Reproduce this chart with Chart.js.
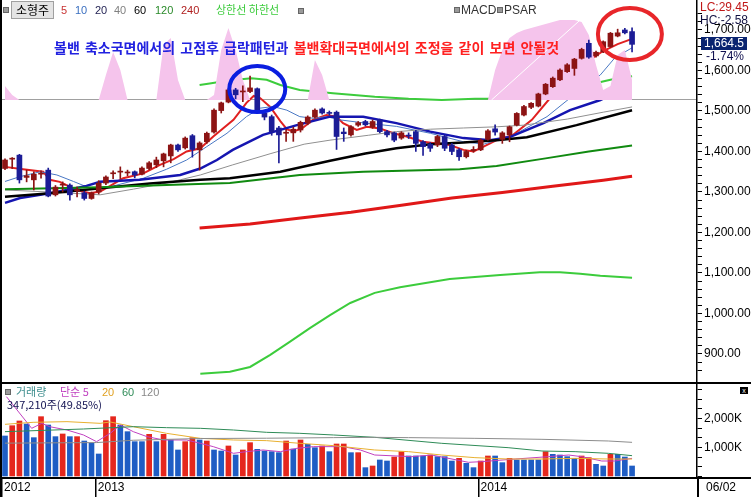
<!DOCTYPE html>
<html>
<head>
<meta charset="utf-8">
<script src="https://cdn.jsdelivr.net/npm/chart.js@4.4.1/dist/chart.umd.min.js"></script>
<style>
body{margin:0;background:#fff;}
#wrap{position:relative;width:751px;height:497px;overflow:hidden;background:#fff;font-family:"Liberation Sans",Arial,sans-serif;}
canvas{position:absolute;left:0;}
#priceCv{top:0;}
#volCv{top:383px;}
.t{position:absolute;white-space:nowrap;font-size:12px;line-height:13px;}
.kr{font-family:"Noto Sans CJK KR","Noto Sans",sans-serif;}
.ln{position:absolute;background:#000;}
.sq{position:absolute;width:4px;height:4px;background:#9a9a9a;border:1px solid #666;}
</style>
</head>
<body>
<div id="wrap">
<canvas id="priceCv" width="751" height="383"></canvas>
<canvas id="volCv" width="751" height="114"></canvas>

<div class="sq" style="left:3px;top:7px"></div>
<div class="t kr" style="left:11px;top:1px;width:41px;height:16px;background:#e4e4e4;border:1px solid #a0a0a0;text-align:center;font-size:12px;line-height:16px">소형주</div>
<div class="t" style="left:61px;top:4px;font-size:11px;color:#c83232">5</div>
<div class="t" style="left:75px;top:4px;font-size:11px;color:#3a6fc0">10</div>
<div class="t" style="left:95px;top:4px;font-size:11px;color:#1e1e50">20</div>
<div class="t" style="left:114px;top:4px;font-size:11px;color:#808080">40</div>
<div class="t" style="left:134px;top:4px;font-size:11px;color:#000">60</div>
<div class="t" style="left:155px;top:4px;font-size:11px;color:#2a8a2a">120</div>
<div class="t" style="left:181px;top:4px;font-size:11px;color:#b02020">240</div>
<div class="t kr" style="left:216px;top:3px;font-size:11px;color:#3ccc3c">상한선 하한선</div>
<div class="sq" style="left:298px;top:8px"></div>

<div class="sq" style="left:454px;top:7px"></div>
<div class="t" style="left:461px;top:4px;color:#333">MACD</div>
<div class="sq" style="left:497px;top:7px"></div>
<div class="t" style="left:504px;top:4px;color:#333">PSAR</div>

<div class="t kr" style="left:54px;top:39px;font-size:14px;line-height:16px;font-weight:bold;word-spacing:2px"><span style="color:#2222e0">볼밴 축소국면에서의 고점후 급락패턴과</span> <span style="color:#ff2020">볼밴확대국면에서의 조정을 같이 보면 안될것</span></div>

<div class="t" style="left:700px;top:1px;color:#c01818">LC:29.45</div>
<div class="t" style="left:700px;top:14px;color:#101040">HC:-2.58</div>
<div class="t" style="left:701px;top:37px;width:46px;height:13px;background:#0a2470;color:#fff;text-align:center">1,664.5</div>
<div class="t" style="left:706px;top:50px;color:#101050">-1.74%</div>

<div class="sq" style="left:5px;top:389px"></div>
<div class="t kr" style="left:16px;top:385px;font-size:11px;color:#3e8e8e">거래량</div>
<div class="t kr" style="left:60px;top:385px;font-size:11px;color:#c040c0">단순 5</div>
<div class="t" style="left:102px;top:386px;font-size:11px;color:#e0a020">20</div>
<div class="t" style="left:122px;top:386px;font-size:11px;color:#2e8b57">60</div>
<div class="t" style="left:141px;top:386px;font-size:11px;color:#888">120</div>
<div class="t kr" style="left:7px;top:398px;font-size:11px;color:#101050">347,210주(49.85%)</div>
<div class="t" style="left:740px;top:387px;width:8px;height:7px;background:#000;color:#fff;font-size:7px;line-height:7px;text-align:center">x</div>

<div class="ln" style="left:0;top:0;width:2px;height:497px"></div>
<div class="ln" style="left:0;top:382px;width:751px;height:2px"></div>
<div class="ln" style="left:0;top:477px;width:751px;height:1.5px"></div>
<div class="ln" style="left:697px;top:477px;width:1.5px;height:20px"></div>
<div class="t" style="left:706px;top:481px;color:#000">06/02</div>
</div>

<script>
// weekly candles
const opens = [1358,1381,1391,1336,1330,1344,1354,1293,1317,1317,
  1303,1298,1284,1300,1322,1345,1349,1347,1350,1344,
  1358,1367,1377,1389,1416,1409,1439,1404,1424,1448,
  1501,1522,1552,1547,1548,1555,1495,1486,1458,1445,
  1446,1453,1470,1485,1505,1496,1497,1448,1441,1465,
  1474,1460,1478,1449,1446,1433,1440,1449,1424,1418,
  1416,1437,1416,1404,1387,1402,1404,1430,1456,1430,
  1441,1465,1490,1509,1512,1542,1560,1577,1597,1605,
  1630,1667,1636,1646,1659,1685,1700,1696];
const highs = [1382,1385,1393,1354,1350,1352,1359,1316,1325,1320,
  1312,1302,1300,1328,1340,1352,1362,1354,1352,1362,
  1375,1386,1396,1418,1418,1436,1442,1424,1448,1505,
  1522,1555,1556,1562,1586,1557,1498,1490,1462,1455,
  1460,1475,1488,1505,1508,1500,1500,1458,1464,1474,
  1477,1478,1480,1452,1448,1449,1446,1452,1427,1422,
  1440,1440,1420,1407,1403,1412,1431,1454,1466,1449,
  1463,1496,1514,1521,1544,1568,1584,1604,1617,1630,
  1655,1675,1648,1673,1694,1702,1704,1705];
const lows = [1355,1358,1322,1325,1305,1334,1288,1290,1300,1280,
  1288,1280,1282,1295,1318,1333,1333,1340,1335,1342,
  1355,1360,1362,1372,1400,1406,1386,1354,1420,1445,
  1495,1520,1530,1523,1545,1495,1478,1440,1372,1425,
  1425,1448,1466,1482,1492,1490,1405,1425,1438,1462,
  1463,1457,1446,1436,1424,1430,1432,1400,1390,1400,
  1412,1402,1392,1378,1384,1398,1402,1428,1440,1420,
  1424,1463,1488,1506,1510,1540,1558,1575,1595,1588,
  1628,1630,1633,1644,1657,1683,1690,1646];
const closes = [1379,1382,1330,1340,1344,1346,1290,1312,1319,1293,
  1306,1284,1298,1322,1337,1346,1350,1348,1342,1359,
  1372,1379,1394,1416,1404,1433,1405,1421,1445,1502,
  1520,1552,1540,1548,1557,1503,1485,1449,1441,1447,
  1455,1472,1485,1502,1495,1494,1437,1444,1461,1471,
  1466,1474,1449,1441,1428,1446,1438,1420,1412,1408,
  1437,1408,1400,1387,1400,1405,1428,1451,1448,1446,
  1461,1494,1511,1519,1542,1566,1581,1601,1614,1628,
  1652,1633,1645,1671,1692,1693,1693,1664.5];

// weekly volume in thousands of shares, 1 = red bar
const volumes = [1397,1752,1914,1810,1339,2063,1776,1374,1466,1374,
  1374,1224,1144,776,1925,2063,1776,1546,1201,1201,
  1454,1201,1454,1259,914,1201,1339,1259,1224,914,
  879,1052,741,914,1167,937,879,856,822,1224,
  948,1259,1109,994,1052,856,1121,1121,822,822,
  305,362,569,534,672,856,707,707,707,741,
  684,684,534,626,454,305,534,707,707,477,
  626,569,569,569,569,856,764,741,684,626,
  707,650,420,362,764,764,672,362];
const volumeUp = [0,1,1,0,0,1,0,0,1,0, 1,0,0,0,1,1,0,0,0,0,
  1,0,1,0,0,1,1,0,1,0, 0,1,0,1,1,0,0,0,0,1,
  0,1,0,0,1,0,1,1,0,1, 0,1,0,0,1,1,0,0,0,1,
  0,0,0,1,0,0,1,1,0,0, 1,0,0,0,0,1,0,0,0,0,
  1,1,0,0,1,0,0,0];

// overlay oscillator (pink area) per week, 0 = baseline
const pinkVals = [14,5,0,0,0,0,0,0,0,0, 0,0,0,0,25,48,30,0,0,0,
  0,0,55,62,20,0,0,0,0,5, 50,72,50,20,0,0,0,0,0,0,
  0,0,0,40,25,0,0,0,0,0, 0,0,0,0,0,0,0,0,0,0,
  0,0,0,0,0,0,0,0,30,50, 62,67,70,72,74,76,78,80,80,80,
  78,65,35,10,14,45,50,20];
const whiteLine = [[67.5,0],[79.8,80]];

// moving averages: [week index, price]
const ma5 = [[0,1362],[2.5,1356],[5.3,1350],[6.2,1330],[7.6,1325],[9.9,1305],[11.8,1297],[13.2,1301],[14.6,1315],[16.4,1334],[19.2,1346],[21.5,1367],[23.4,1381],[25.2,1400],[27.1,1408],[28.9,1437],[31.7,1478],[33.5,1520],[34.5,1537],[35.4,1532],[36.8,1510],[38.2,1475],[39.1,1455],[40,1449],[41.3,1458],[42.7,1478],[44.6,1490],[46,1486],[46.9,1470],[48.8,1453],[50.2,1461],[52,1457],[53.9,1445],[55.7,1437],[58,1424],[59.9,1420],[61.7,1416],[63.6,1404],[65,1400],[66.4,1412],[68.2,1428],[70.5,1441],[73.1,1478],[75.4,1527],[76.8,1548],[79,1595],[81,1625],[83,1648],[85,1665],[87,1678]];
const ma10 = [[0,1326],[2.1,1338],[4.9,1350],[7.2,1342],[9.5,1326],[11.3,1313],[13.2,1307],[15.5,1317],[19.2,1334],[22.4,1356],[25.2,1379],[28,1412],[30.8,1445],[33.5,1486],[35.4,1507],[37.2,1511],[39.1,1502],[40.9,1486],[42.8,1482],[44.6,1486],[46.5,1478],[50,1470],[54.3,1462],[59,1445],[63.6,1424],[66.4,1418],[70.5,1440],[75.2,1486],[79.8,1552],[82.6,1589],[84.6,1631],[87,1656]];
const ma20 = [[0,1273],[2.1,1285],[4.9,1293],[8.6,1305],[11.3,1315],[13.2,1325],[18.7,1330],[24.3,1342],[27.1,1358],[29.4,1379],[31.6,1404],[35.8,1441],[40.5,1465],[45.1,1486],[49.7,1486],[54.3,1470],[59,1449],[63.6,1433],[67.3,1428],[70.1,1436],[74.7,1470],[78.4,1502],[82.6,1527],[84,1540]];
const ma40 = [[0,1305],[6,1300],[13.2,1293],[17.8,1307],[22.4,1322],[27.1,1342],[31.6,1367],[36.9,1395],[41.5,1418],[45.1,1428],[50.4,1440],[54.3,1449],[59,1455],[63.6,1458],[68.3,1461],[72,1465],[78,1480],[83,1497],[87,1510]];
const ma60 = [[0,1288],[6.3,1297],[13.2,1309],[20.1,1321],[27.1,1330],[31.2,1334],[38.2,1350],[45.1,1377],[50,1395],[54.3,1408],[59,1418],[63.6,1422],[68.2,1428],[72.4,1435],[79.3,1465],[87,1502]];
const ma120 = [[0,1307],[13.2,1312],[22.4,1317],[31.2,1322],[40.9,1342],[49.7,1350],[63.1,1356],[68.2,1364],[75,1383],[81,1400],[87,1415]];
const ma240 = [[27,1211],[34,1221],[41,1236],[48,1250],[55,1267],[62,1285],[69,1299],[76,1314],[83,1329],[87,1339]];
const upperBand = [[27,1564],[28.4,1568],[31,1575],[34.2,1581],[36.3,1577],[38.2,1564],[40.9,1552],[45.5,1544],[51.3,1535],[56,1530],[60.6,1527],[65.2,1530],[72.2,1530],[78,1548],[82.8,1572],[84,1577],[87,1586]];
const lowerBand = [[27.1,851],[31.2,856],[34,868],[36.8,898],[39.5,930],[42.3,964],[45.1,996],[47.9,1026],[51.3,1051],[54.8,1065],[61.7,1085],[68.7,1095],[74.2,1102],[77,1102],[79.8,1098],[82.6,1093],[87,1088]];

// volume moving averages: [week index, K shares]
const vma5 = [[0.2,2753],[3.7,1661],[5.1,1833],[6.2,1718],[8.6,1603],[10.9,1431],[12.7,1201],[14.6,1489],[16,1776],[17.8,1546],[19.7,1374],[22,1259],[25.2,1259],[27.1,1144],[28.9,1029],[31.7,799],[33.5,856],[35.8,914],[38.2,856],[40.5,971],[42.8,1029],[46.9,1029],[49.3,914],[51.3,741],[56.4,684],[59.2,741],[64.3,489],[66.1,511],[70.8,603],[75.4,684],[78.2,741],[80,684],[82.8,534],[84.6,534],[87,626]];
const vma20 = [[0,1799],[3.9,1868],[8.6,1891],[13.2,1833],[14.6,1880],[17.8,1718],[22.4,1489],[27.1,1316],[31.7,1259],[36.3,1236],[40.9,1144],[45.6,1063],[51.3,914],[56,856],[60.6,741],[65.2,650],[69.8,603],[74.5,603],[79.1,626],[83.7,603],[87,603]];
const vma60 = [[0,1546],[10.9,1638],[17.8,1718],[22.4,1684],[27.1,1661],[31.7,1603],[36.3,1523],[40.9,1489],[45.6,1431],[51.3,1351],[60.6,1144],[69.8,994],[74.5,879],[79.1,856],[83.7,799],[87,718]];
const vma120 = [[0,1150],[12.7,1170],[17.8,1250],[27.1,1310],[36.3,1320],[45.6,1340],[51.3,1350],[56,1340],[65.2,1316],[74.5,1282],[83.7,1224],[87,1178]];

// date axis
const yearTicks = [-0.416, 12.6, 65.7];
const yearLabels = ['2012', '2013', '2014'];
const volTicks = [0, 333.3, 666.7, 1000, 1333.3, 1666.7, 2000, 2333.3, 2666.7, 3000];

const X_MIN = -0.416, X_MAX = 96.01;
const UP = '#8c1414', DN = '#1c1c96';
const VR = '#e5271d', VB = '#1f5dc4';
const tickFont = { family: 'Liberation Sans', size: 12 };

const pts = a => a.map(([x, y]) => ({ x, y }));
const idx = closes.map((c, i) => i);
const candleColors = idx.map(i => closes[i] >= opens[i] ? UP : DN);

function line(points, color, width, order, axis) {
  return { type: 'line', data: pts(points), borderColor: color, borderWidth: width,
    pointRadius: 0, tension: 0, fill: false, order: order, yAxisID: axis || 'y' };
}

const circles = {
  id: 'circles',
  afterDatasetsDraw(chart) {
    const { ctx, scales } = chart;
    ctx.save();
    ctx.lineWidth = 4;
    [[35, 1554, 28, 23, '#0a1ee0'], [86.7, 1690, 32, 26, '#e8262a']].forEach(c => {
      ctx.strokeStyle = c[4];
      ctx.beginPath();
      ctx.ellipse(scales.x.getPixelForValue(c[0]), scales.y.getPixelForValue(c[1]), c[2], c[3], 0, 0, Math.PI * 2);
      ctx.stroke();
    });
    ctx.restore();
  }
};

new Chart(document.getElementById('priceCv'), {
  type: 'bar',
  data: {
    datasets: [
      { type: 'bar', data: idx.map(i => ({ x: i, y: [opens[i], closes[i]] })), backgroundColor: candleColors,
        barThickness: 5, grouped: false, minBarLength: 1, order: 0 },
      { type: 'bar', data: idx.map(i => ({ x: i, y: [lows[i], highs[i]] })), backgroundColor: candleColors,
        barThickness: 1, grouped: false, order: 1 },
      line(whiteLine, '#ffffff', 1, 2, 'yInd'),
      { type: 'line', data: pinkVals.map((v, i) => ({ x: i, y: v })), yAxisID: 'yInd', borderWidth: 0,
        borderColor: 'rgba(0,0,0,0)', backgroundColor: '#f5c4ec', fill: 'origin', pointRadius: 0, tension: 0, order: 3 },
      line(upperBand, '#3ccc3c', 2, 4),
      line(lowerBand, '#3ccc3c', 2, 4),
      line(ma240, '#e01818', 3, 5),
      line(ma120, '#108a10', 2, 5),
      line(ma60, '#000000', 2.5, 5),
      line(ma40, '#909090', 1, 5),
      line(ma20, '#1515b0', 2.5, 5),
      line(ma10, '#4a78c4', 1, 5),
      line(ma5, '#e02020', 2, 5)
    ]
  },
  options: {
    responsive: false, animation: false,
    layout: { padding: { left: 2, right: 0, top: 0, bottom: 0 } },
    plugins: { legend: { display: false }, tooltip: { enabled: false } },
    scales: {
      x: { type: 'linear', min: X_MIN, max: X_MAX, offset: false, display: false },
      y: {
        position: 'right', min: 828.4, max: 1774,
        afterBuildTicks: s => { s.ticks = s.ticks.filter(t => t.value % 20 === 0); },
        ticks: { stepSize: 20, autoSkip: false, padding: 2, color: '#000', font: tickFont,
          callback: v => v % 100 === 0 ? v.toLocaleString('en-US', { minimumFractionDigits: 2 }) : '' },
        grid: { drawOnChartArea: false, tickLength: 5, color: '#000' },
        border: { display: true, color: '#000', width: 1.5 },
        afterFit: s => { s.width = 54; s.paddingTop = 0; s.paddingBottom = 0; }
      },
      yInd: {
        position: 'left', min: -283, max: 100,
        afterBuildTicks: s => { s.ticks = [{ value: 0 }]; },
        ticks: { display: false },
        grid: { drawTicks: false, color: '#a0a0a0', lineWidth: 1 },
        border: { display: false },
        afterFit: s => { s.width = 0; s.paddingTop = 0; s.paddingBottom = 0; }
      }
    }
  },
  plugins: [circles]
});

new Chart(document.getElementById('volCv'), {
  type: 'bar',
  data: {
    datasets: [
      { type: 'bar', data: volumes.map((v, i) => ({ x: i, y: v })), backgroundColor: volumeUp.map(u => u ? VR : VB),
        barThickness: 5, grouped: false, order: 5, yAxisID: 'yVol' },
      line(vma120, '#8c8c8c', 1, 1, 'yVol'),
      line(vma60, '#2e8b57', 1, 1, 'yVol'),
      line(vma20, '#e8b030', 1, 1, 'yVol'),
      line(vma5, '#c040c0', 1, 1, 'yVol')
    ]
  },
  options: {
    responsive: false, animation: false,
    layout: { padding: { left: 2, right: 0, top: 0, bottom: 0 } },
    plugins: { legend: { display: false }, tooltip: { enabled: false } },
    scales: {
      x: {
        type: 'linear', min: X_MIN, max: X_MAX, offset: false, position: 'bottom',
        afterBuildTicks: s => { s.ticks = yearTicks.map(v => ({ value: v })); },
        ticks: { callback: (v, i) => yearLabels[i], align: 'start', labelOffset: 2, padding: -17,
          maxRotation: 0, autoSkip: false, color: '#000', font: tickFont },
        grid: { offset: false, drawOnChartArea: false, tickLength: 19, color: '#000', lineWidth: 1.5 },
        border: { display: true, color: '#000', width: 1.5 },
        afterFit: s => { s.height = 19; s.paddingLeft = 0; s.paddingRight = 0; }
      },
      yVol: {
        position: 'right', min: -52, max: 3224,
        afterBuildTicks: s => { s.ticks = volTicks.map(v => ({ value: v })); },
        ticks: { autoSkip: false, padding: 2, color: '#000', font: tickFont,
          callback: v => (v === 1000 || v === 2000) ? v.toLocaleString('en-US') + 'K' : '' },
        grid: { drawOnChartArea: false, tickLength: 5, color: '#000' },
        border: { display: true, color: '#000', width: 1.5 },
        afterFit: s => { s.width = 54; s.paddingTop = 0; s.paddingBottom = 0; }
      }
    }
  }
});
</script>
</body>
</html>
